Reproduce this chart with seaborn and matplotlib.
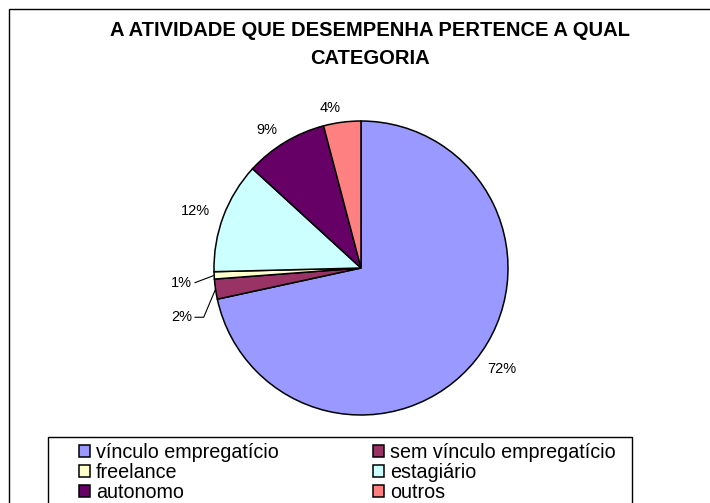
import matplotlib
matplotlib.use('Agg')
from matplotlib import pyplot as plt
from matplotlib.patches import Rectangle
import seaborn as sns
import numpy as np

sns.set_style('white')
plt.rcParams['font.family'] = ['Liberation Sans', 'DejaVu Sans']
plt.rcParams['text.color'] = 'black'

title = 'A ATIVIDADE QUE DESEMPENHA PERTENCE A QUAL\nCATEGORIA'
categorias = ['vínculo empregatício', 'sem vínculo empregatício', 'freelance',
              'estagiário', 'autonomo', 'outros']
valores = [71.6, 2.2, 0.8, 12.2, 9.1, 4.1]
cores = ['#9999FF', '#993366', '#FFFFCC', '#CCFFFF', '#660066', '#FF8080']
rotulos = ['%d%%' % round(v) for v in valores]

pal = sns.color_palette(cores)

fig = plt.figure(figsize=(7.1, 5.03), dpi=100)
ax = fig.add_axes([214/710, (503-415)/503, 294/710, 294/503])
wedges, texts = ax.pie(valores, labels=rotulos, colors=pal, startangle=90,
                       counterclock=False, labeldistance=1.1, radius=1,
                       wedgeprops=dict(edgecolor='black', linewidth=1.1),
                       textprops=dict(fontsize=10.5, color='black'))
ax.set_xlim(-1, 1)
ax.set_ylim(-1, 1)
ax.set_aspect('equal')
ax.axis('off')

# small slices: labels moved out with leader lines
for i, (ty, bend) in zip([2, 1], [(-0.10, False), (-0.335, True)]):
    w = wedges[i]
    ang = np.deg2rad((w.theta1 + w.theta2) / 2)
    ex, ey = np.cos(ang), np.sin(ang)
    texts[i].set_position((-1.15, ty))
    texts[i].set_ha('right')
    if bend:
        ax.plot([-1.13, -1.07, ex], [ty, ty, ey], color='black', lw=0.8, clip_on=False)
    else:
        ax.plot([-1.13, ex], [ty, ey], color='black', lw=0.8, clip_on=False)

fig.text(370/710, 1 - 45/503, title, ha='center', va='center', fontsize=14.5,
         fontweight='bold', linespacing=1.6, multialignment='center', color='black')

# outer border and legend box
fig.patches.append(Rectangle((9/710, -0.1), 1.2, 1.1 - 9/503, transform=fig.transFigure,
                             fill=False, edgecolor='black', linewidth=1))
fig.patches.append(Rectangle((48/710, -0.1), (632-48)/710, 0.1 + (503-437)/503,
                             transform=fig.transFigure, fill=False,
                             edgecolor='black', linewidth=1))

ordem = [0, 2, 4, 1, 3, 5]
leg = fig.legend([wedges[i] for i in ordem], [categorias[i] for i in ordem], ncol=2,
                 loc='upper left', bbox_to_anchor=(79/710, 1 - 443/503),
                 frameon=False, fontsize=14.2, borderpad=0, labelspacing=0.05,
                 handlelength=0.55, handleheight=0.55, handletextpad=0.3,
                 columnspacing=4.8, borderaxespad=0)
for t in leg.get_texts():
    t.set_color('black')

plt.savefig('out.png', dpi=100)
